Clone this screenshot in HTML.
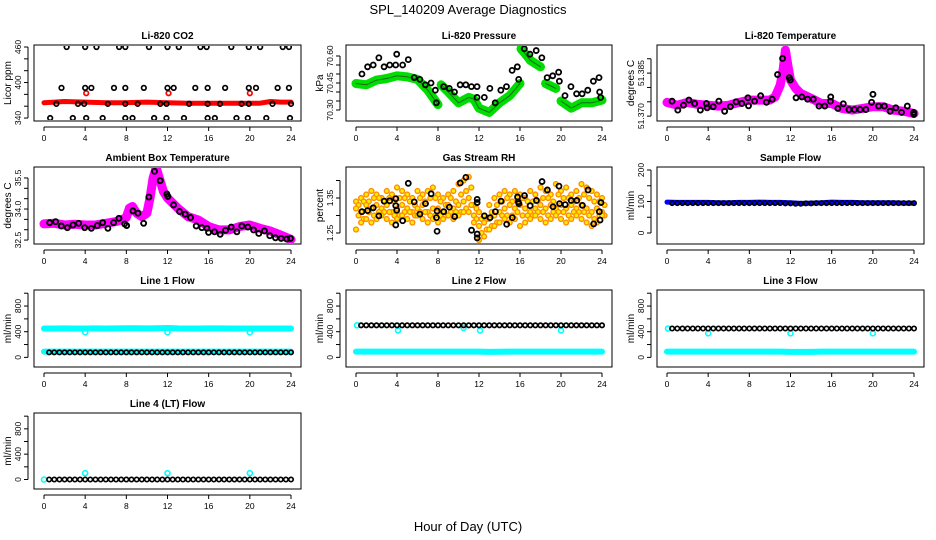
<!DOCTYPE html>
<html><head><meta charset="utf-8">
<style>
html,body{margin:0;padding:0;background:#fff;}
svg{display:block;font-family:"Liberation Sans",sans-serif;}
</style></head>
<body>
<svg id="c" width="936" height="540" viewBox="0 0 936 540" xmlns="http://www.w3.org/2000/svg">
<text x="468" y="14" text-anchor="middle" font-size="13">SPL_140209  Average Diagnostics</text>
<text x="468" y="531" text-anchor="middle" font-size="13">Hour of Day (UTC)</text>
</svg>
<script>
// ---- data ----
const xTicks = [0,4,8,12,16,20,24];
const co2RedHrs = [0,2,4,6,8,10,12,14,16,18,20,21,22,23,24];
const co2RedVals = [366,368,367,366,366,367,366,365,365,365,365,365,368,367,367];
const co2RedOutHrs = [4.1,12.1,20.0];
const co2RedOutVals = [382,382,382];
const co2BlackHrs = [2.2,4.0,5.1,7.3,7.9,10.2,12.0,13.1,15.2,15.8,18.2,19.9,21.0,23.2,23.8,
 1.7,4.0,4.6,6.8,7.9,9.7,12.0,12.6,14.7,15.9,17.6,19.9,20.6,22.7,23.8,
 1.2,3.3,3.9,6.2,7.9,9.1,11.3,11.9,14.1,15.9,17.1,19.2,19.9,22.2,24.0,
 0.6,2.8,4.1,5.7,7.9,8.6,10.7,11.9,13.6,15.9,16.6,18.7,19.8,21.6,23.9];
const co2BlackVals = [460,460,460,460,460,460,460,460,460,460,460,460,460,460,460,
 391,391,391,391,391,391,391,391,391,391,391,391,391,391,391,
 364,364,364,364,364,364,364,364,364,364,364,364,364,364,364,
 340,340,340,340,340,340,340,340,340,340,340,340,340,340,340];

const presGreenHrs = [0,1,2,3,4,5,6,7,8,8.2,8.3,9,10,11,11.5,12,13,14,15,16,16.05,16.1,16.5,17,18,18.2,18.5,19.5,19.8,20,21,22,23,24];
const presGreenVals = [70.447,70.44,70.466,70.475,70.49,70.484,70.47,70.41,70.33,null,70.44,70.40,70.34,70.37,70.36,70.31,70.287,70.34,70.38,70.447,null,70.64,70.613,70.576,70.54,null,70.447,70.42,null,70.35,70.31,70.34,70.34,70.355];
const presBlackHrs = [0.58,1.13,1.68,2.23,2.74,3.29,3.87,3.97,4.55,5.1,5.68,6.23,6.77,7.32,7.74,7.84,8.55,9.1,9.61,10.16,10.71,11.26,11.81,11.81,12.52,13.06,13.58,14.13,14.68,15.23,15.74,15.87,16.42,16.97,17.58,18.13,18.65,19.19,19.77,19.84,20.39,20.97,21.52,22.06,22.61,23.16,23.71,23.77,23.87];
const presBlackVals = [70.50,70.54,70.55,70.59,70.54,70.55,70.55,70.61,70.55,70.58,70.48,70.47,70.44,70.45,70.41,70.34,70.43,70.42,70.40,70.44,70.44,70.43,70.43,70.37,70.37,70.42,70.34,70.41,70.43,70.52,70.54,70.47,70.64,70.61,70.63,70.59,70.48,70.49,70.51,70.46,70.38,70.43,70.39,70.39,70.41,70.46,70.48,70.40,70.37];

const tempMagHrs = [0,1,2,3,4,5,6,7,8,9,10,10.5,11,11.3,11.5,11.8,12,12.5,13,14,15,16,17,18,19,20,21,22,23,24];
const tempMagVals = [51.3748,51.3738,51.3748,51.3741,51.3738,51.3735,51.3738,51.3748,51.3756,51.3756,51.3756,51.3767,51.3808,51.3866,51.3930,51.3866,51.3826,51.3797,51.3779,51.3762,51.3744,51.3744,51.3727,51.3721,51.3727,51.3733,51.3733,51.3721,51.3717,51.3709];
const tempBlackHrs = [0.49,1.05,1.60,2.13,2.69,3.24,3.83,3.90,4.49,5.04,5.60,6.16,6.71,7.27,7.86,7.92,8.51,9.10,9.66,10.22,10.74,11.23,11.89,11.98,12.54,13.10,13.66,14.21,14.77,15.33,15.88,15.91,16.60,17.13,17.68,18.21,18.76,19.32,19.88,20.01,20.56,21.12,21.68,22.23,22.79,23.35,23.97,23.98];
const tempBlackVals = [51.3752,51.3721,51.3738,51.3756,51.3744,51.3721,51.3744,51.3729,51.3733,51.3752,51.3717,51.3733,51.3750,51.3744,51.3764,51.3736,51.3752,51.3771,51.3748,51.3759,51.3845,51.3901,51.3834,51.3826,51.3764,51.3767,51.3759,51.3759,51.3735,51.3735,51.3752,51.3767,51.3727,51.3743,51.3723,51.3723,51.3723,51.3723,51.3748,51.3776,51.3735,51.3735,51.3717,51.3729,51.3713,51.3735,51.3713,51.3706];

const ambMagHrs = [0,1,2,3,4,5,6,7,7.5,8,8.3,8.6,9,9.5,10,10.3,10.6,10.9,11.2,11.6,12,13,14,15,16,17,18,19,20,21,22,23,24];
const ambMagVals = [33.28,33.31,33.23,33.26,33.23,33.23,33.31,33.39,33.47,33.59,34.04,34.12,33.80,33.63,33.80,34.53,35.50,35.99,35.50,34.85,34.53,34.04,33.63,33.47,33.15,32.99,32.99,33.15,33.23,33.07,32.94,32.74,32.53];
const ambBlackHrs = [0.55,1.13,1.68,2.27,2.82,3.37,3.95,4.6,5.18,5.7,6.21,6.76,7.28,7.83,8.03,8.64,9.13,9.68,10.19,10.74,11.29,11.94,12.04,12.59,13.17,13.72,14.24,14.79,15.34,15.83,15.99,16.57,17.12,17.64,18.19,18.74,19.22,19.81,20.36,20.87,21.42,21.94,22.49,23.04,23.59,23.95];
const ambBlackVals = [33.34,33.39,33.18,33.10,33.23,33.31,33.10,33.07,33.20,33.34,33.07,33.34,33.55,33.28,33.20,33.91,33.80,33.31,34.58,35.82,35.37,34.72,34.61,34.20,33.88,33.75,33.59,33.18,33.10,33.07,32.87,32.90,32.78,32.97,33.13,32.90,33.18,33.13,32.99,32.82,32.94,32.71,32.61,32.58,32.55,32.58];

const rhUpper = [1.34,1.35,1.36,1.37,1.36,1.35,1.37,1.36,1.38,1.37,1.36,1.35,1.37,1.36,1.37,1.38,1.36,1.35,1.36,1.37,1.39,1.40,1.41,1.33,1.31,1.30,1.33,1.35,1.36,1.37,1.36,1.37,1.36,1.35,1.37,1.36,1.38,1.37,1.36,1.39,1.37,1.38,1.36,1.37,1.39,1.38,1.37,1.36,1.35];
const rhQ3 = [1.33,1.34,1.34,1.35,1.35,1.34,1.35,1.34,1.35,1.35,1.34,1.33,1.35,1.34,1.35,1.35,1.34,1.33,1.35,1.34,1.36,1.37,1.38,1.32,1.29,1.29,1.31,1.33,1.34,1.35,1.34,1.35,1.35,1.34,1.34,1.34,1.35,1.35,1.34,1.36,1.35,1.35,1.34,1.35,1.36,1.35,1.34,1.34,1.33];
const rhMid = [1.32,1.31,1.33,1.32,1.33,1.32,1.33,1.31,1.32,1.33,1.32,1.31,1.32,1.33,1.31,1.32,1.32,1.31,1.33,1.32,1.33,1.34,1.35,1.30,1.27,1.28,1.29,1.30,1.31,1.32,1.33,1.32,1.33,1.32,1.31,1.32,1.33,1.32,1.33,1.32,1.33,1.32,1.33,1.32,1.33,1.32,1.31,1.32,1.31];
const rhQ1 = [1.30,1.29,1.31,1.30,1.31,1.31,1.31,1.30,1.30,1.31,1.31,1.30,1.31,1.31,1.30,1.30,1.30,1.30,1.31,1.31,1.31,1.32,1.33,1.29,1.25,1.26,1.27,1.28,1.30,1.30,1.30,1.31,1.30,1.30,1.30,1.31,1.31,1.30,1.31,1.31,1.31,1.30,1.31,1.31,1.31,1.30,1.29,1.30,1.30];
const rhLower = [1.26,1.28,1.29,1.28,1.29,1.30,1.29,1.28,1.29,1.30,1.29,1.28,1.30,1.29,1.28,1.29,1.28,1.29,1.30,1.29,1.30,1.31,1.31,1.28,1.23,1.24,1.26,1.27,1.28,1.29,1.28,1.29,1.27,1.28,1.29,1.30,1.29,1.28,1.29,1.30,1.29,1.28,1.29,1.30,1.29,1.28,1.27,1.28,1.30];
const rhBlackHrs = [0.58,1.13,1.68,2.23,2.75,3.29,3.88,3.88,3.97,3.88,4.55,5.10,5.68,6.23,6.78,7.33,7.91,7.85,7.91,8.56,9.11,9.63,10.17,10.72,11.27,11.82,11.82,11.82,11.82,12.53,13.08,13.6,14.15,14.7,15.25,15.76,15.83,15.89,16.44,16.99,17.6,18.15,18.67,19.22,19.8,19.86,20.41,20.99,21.54,22.09,22.64,23.19,23.74,23.81,23.9];
const rhBlackVals = [1.311,1.314,1.322,1.299,1.341,1.342,1.348,1.328,1.315,1.273,1.285,1.392,1.339,1.304,1.334,1.362,1.313,1.294,1.255,1.311,1.324,1.297,1.393,1.409,1.258,1.346,1.337,1.247,1.236,1.299,1.294,1.311,1.341,1.275,1.294,1.353,1.339,1.334,1.357,1.328,1.343,1.397,1.373,1.325,1.384,1.334,1.331,1.343,1.343,1.329,1.373,1.276,1.311,1.287,1.337];

const hourly = [0,1,2,3,4,5,6,7,8,9,10,11,12,13,14,15,16,17,18,19,20,21,22,23,24];
const sampleBlueVals = [98,97,97,97,97,96,96,97,97,98,97,97,96,94,95,96,98,97,97,96,96,96,96,95,95];
const sampleBlackVals = [95,95,95,95,95,95,95,95,95,95,95,95,94,93,94,95,95,95,95,95,95,95,95,95,95];

const l1CyanHigh = [450,450,452,450,450,452,450,452,455,455,452,455,458,452,450,450,452,452,450,450,450,450,450,450,450];
const l1CyanLow = [90,90,90,90,90,90,90,90,90,90,90,90,90,90,90,90,90,90,90,90,90,90,90,90,90];
const l1Black = [78,78,78,78,78,78,78,78,78,78,78,78,78,78,78,78,78,78,78,78,78,78,78,78,78];
const l1OutHrs = [4.0,12.0,20.0];
const l1OutVals = [390,390,390];

const l2CyanLow = [90,90,90,90,90,90,90,90,90,90,90,90,90,85,88,90,90,90,90,90,90,90,90,90,90];
const l2Black = [500,500,500,500,500,500,500,500,500,500,500,500,500,500,500,500,500,500,500,500,500,500,500,500,500];
const l2OutHrs = [0.1,4.1,10.5,12.1,20.0];
const l2OutVals = [500,420,460,420,420];

const l3CyanLow = [90,90,90,90,90,90,90,90,90,90,90,90,85,85,85,90,90,90,90,90,90,90,90,90,90];
const l3Black = [450,450,450,450,450,450,450,450,450,450,450,450,450,450,450,450,450,450,450,450,450,450,450,450,450];
const l3OutHrs = [0.1,4.0,12.0,20.0];
const l3OutVals = [450,375,375,375];

const l4Black = [0,0,0,0,0,0,0,0,0,0,0,0,0,0,0,0,0,0,0,0,0,0,0,0,0];
const l4OutHrs = [0,4.0,12.0,20.0];
const l4OutVals = [0,100,100,100];

// ---- layout ----
const svg = document.getElementById('c');
const NS = 'http://www.w3.org/2000/svg';
const cols = [[34,301],[346,612],[657,924]];
const rows = [[45,121],[167,244],[290,367],[413,489]];

function el(tag, attrs, parent){
  const e = document.createElementNS(NS, tag);
  for (const k in attrs) e.setAttribute(k, attrs[k]);
  (parent||svg).appendChild(e);
  return e;
}

function panel(key, c, r, dom, yt, ylbl, title, ylab){
  const [l, rt] = cols[c], [t, b] = rows[r];
  const g = el('g', {});
  
  
  const sx = h => (l+10) + h/24*((rt-10)-(l+10));
  const sy = v => b - (v-dom[0])/(dom[1]-dom[0])*(b-t);
  const box = el('rect', {x:l, y:t, width:rt-l, height:b-t, fill:'none', stroke:'#000', 'stroke-width':1}, g);
  
  
  const tt = el('text', {x:(l+rt)/2, y:t-6, 'text-anchor':'middle', 'font-size':10, 'font-weight':'bold'}, g);
  tt.textContent = title;
  
  
  const yl = el('text', {x:0, y:0, 'text-anchor':'middle', 'font-size':10, transform:`translate(${l-23},${(t+b)/2}) rotate(-90)`}, g);
  yl.textContent = ylab;
  
  
  const xa = el('g', {}, g);
  
  
  el('line', {x1:sx(0), x2:sx(24), y1:b+6, y2:b+6, stroke:'#000'}, xa);
  xTicks.forEach(h => {
    el('line', {x1:sx(h), x2:sx(h), y1:b+6, y2:b+10, stroke:'#000'}, xa);
    const tx = el('text', {x:sx(h), y:b+20, 'text-anchor':'middle', 'font-size':8.5}, xa);
    tx.textContent = h;
    
    
  });
  const ya = el('g', {}, g);
  
  
  el('line', {x1:l-6, x2:l-6, y1:sy(yt[0]), y2:sy(yt[yt.length-1]), stroke:'#000'}, ya);
  yt.forEach((v,i) => {
    el('line', {x1:l-10, x2:l-6, y1:sy(v), y2:sy(v), stroke:'#000'}, ya);
    if (ylbl[i]) {
      const ty = el('text', {x:0, y:0, 'text-anchor':'middle', 'font-size':8.5, transform:`translate(${l-13},${sy(v)}) rotate(-90)`}, ya);
      ty.textContent = ylbl[i];
      
      
    }
  });
  const clipId = key + '-clip';
  const cp = el('clipPath', {id:clipId}, g);
  el('rect', {x:l+1, y:t+1, width:rt-l-2, height:b-t-2}, cp);
  const d = el('g', {'clip-path':`url(#${clipId})`}, g);
  
  
  return {sx, sy, g:d};
}

function band(p, hrs, vals, color, w, name){
  let pts = [];
  const flush = () => {
    if (pts.length) {
      const pl = el('polyline', {points:pts.join(' '), fill:'none', stroke:color, 'stroke-width':w, 'stroke-linecap':'round', 'stroke-linejoin':'round'}, p.g);
      
      
    }
    pts = [];
  };
  hrs.forEach((h,i) => {
    if (vals[i] === null) { flush(); return; }
    pts.push(p.sx(h).toFixed(1) + ',' + p.sy(vals[i]).toFixed(1));
  });
  flush();
}

function pts(p, hrs, vals, stroke, fill, r, sw, name){
  hrs.forEach((h,i) => {
    const ci = el('circle', {cx:p.sx(h), cy:p.sy(vals[i]), r:r, fill:fill, stroke:stroke, 'stroke-width':sw}, p.g);
    
    
  });
}

// Panel 1 CO2
let p = panel('co2', 0, 0, [335,463.4], [340,360,380,400,420,440,460], ['340','','','400','','','460'], 'Li-820 CO2', 'Licor ppm');
band(p, co2RedHrs, co2RedVals, '#ff0000', 5, 'co2-red-series');
pts(p, co2RedOutHrs, co2RedOutVals, '#ff0000', 'none', 2.3, 1.7, 'co2-red-point');
pts(p, co2BlackHrs, co2BlackVals, '#000', 'none', 2.3, 1.7, 'co2-black-point');

// Panel 2 Pressure
p = panel('pressure', 1, 0, [70.239,70.661], [70.30,70.35,70.40,70.45,70.50,70.55,70.60], ['70.30','','','70.45','','','70.60'], 'Li-820 Pressure', 'kPa');
band(p, presGreenHrs, presGreenVals, '#00dd00', 9, 'pressure-green-series');
band(p, presGreenHrs, presGreenVals, '#1a6a1a', 1, 'pressure-green-core');
pts(p, presBlackHrs, presBlackVals, '#000', 'none', 2.5, 1.8, 'pressure-black-point');

// Panel 3 Li-820 Temperature
p = panel('li820-temp', 2, 0, [51.3683,51.3948], [51.370,51.375,51.380,51.385,51.390], ['51.370','','','51.385',''], 'Li-820 Temperature', 'degrees C');
band(p, tempMagHrs, tempMagVals, '#ff00ff', 9, 'li820-temp-magenta-series');
pts(p, tempBlackHrs, tempBlackVals, '#000', 'none', 2.5, 1.9, 'li820-temp-black-point');

// Panel 4 Ambient
p = panel('ambient-temp', 0, 1, [32.31,36.03], [32.5,33.0,33.5,34.0,34.5,35.0,35.5], ['32.5','','','34.0','','','35.5'], 'Ambient Box Temperature', 'degrees C');
band(p, ambMagHrs, ambMagVals, '#ff00ff', 9, 'ambient-magenta-series');
pts(p, ambBlackHrs, ambBlackVals, '#000', 'none', 2.5, 1.9, 'ambient-black-point');

// Panel 5 RH
p = panel('rh', 1, 1, [1.2186,1.4386], [1.25,1.30,1.35,1.40], ['1.25','','1.35',''], 'Gas Stream RH', 'percent');
const rhHrs = rhUpper.map((_,i) => i*0.5);
const rhHrsOff = rhUpper.map((_,i) => i*0.5 + 0.25);
[[rhHrs,rhUpper],[rhHrsOff,rhQ3],[rhHrs,rhMid],[rhHrsOff,rhQ1],[rhHrs,rhLower]].forEach(s => pts(p, s[0], s[1], '#ff8c00', '#ffee00', 2.4, 1.4, 'rh-orange-point'));
pts(p, rhBlackHrs, rhBlackVals, '#000', 'none', 2.5, 1.8, 'rh-black-point');

// Panel 6 Sample flow
p = panel('sample-flow', 2, 1, [-34.9,209.5], [0,50,100,150,200], ['0','','100','','200'], 'Sample Flow', 'ml/min');
band(p, hourly, sampleBlueVals, '#0000ff', 5, 'sample-blue-series');
pts(p, hourly.slice(1), sampleBlackVals.slice(1), '#000', 'none', 2.2, 1.6, 'sample-black-point');
pts(p, hourly.slice(1).map(h=>h-0.5), sampleBlackVals.slice(1), '#000', 'none', 2.2, 1.6, 'sample-black-point');

const fdom = [-150,1050], ft = [0,200,400,600,800,1000], fl = ['0','','400','','800',''];
const halfHrs = hourly.slice(1).map(h=>h-0.5);

// Line 1
p = panel('line1-flow', 0, 2, fdom, ft, fl, 'Line 1 Flow', 'ml/min');
band(p, hourly, l1CyanHigh, '#00ffff', 6, 'line1-cyan-high');
band(p, hourly, l1CyanLow, '#00ffff', 6, 'line1-cyan-low');
pts(p, l1OutHrs, l1OutVals, '#00ffff', 'none', 2.5, 1.6, 'line1-cyan-outlier');
pts(p, hourly.slice(1), l1Black.slice(1), '#000', 'none', 2.2, 1.7, 'line1-black-point');
pts(p, halfHrs, l1Black.slice(1), '#000', 'none', 2.2, 1.7, 'line1-black-point');

// Line 2
p = panel('line2-flow', 1, 2, fdom, ft, fl, 'Line 2 Flow', 'ml/min');
band(p, hourly, l2CyanLow, '#00ffff', 6, 'line2-cyan-low');
pts(p, l2OutHrs, l2OutVals, '#00ffff', 'none', 2.5, 1.6, 'line2-cyan-outlier');
pts(p, hourly.slice(1), l2Black.slice(1), '#000', 'none', 2.2, 1.7, 'line2-black-point');
pts(p, halfHrs, l2Black.slice(1), '#000', 'none', 2.2, 1.7, 'line2-black-point');

// Line 3
p = panel('line3-flow', 2, 2, fdom, ft, fl, 'Line 3 Flow', 'ml/min');
band(p, hourly, l3CyanLow, '#00ffff', 6, 'line3-cyan-low');
pts(p, l3OutHrs, l3OutVals, '#00ffff', 'none', 2.5, 1.6, 'line3-cyan-outlier');
pts(p, hourly.slice(1), l3Black.slice(1), '#000', 'none', 2.2, 1.7, 'line3-black-point');
pts(p, halfHrs, l3Black.slice(1), '#000', 'none', 2.2, 1.7, 'line3-black-point');

// Line 4
p = panel('line4-flow', 0, 3, fdom, ft, fl, 'Line 4 (LT) Flow', 'ml/min');
pts(p, l4OutHrs, l4OutVals, '#00ffff', 'none', 2.5, 1.6, 'line4-cyan-outlier');
pts(p, hourly.slice(1), l4Black.slice(1), '#000', 'none', 2.2, 1.7, 'line4-black-point');
pts(p, halfHrs, l4Black.slice(1), '#000', 'none', 2.2, 1.7, 'line4-black-point');
</script>
</body></html>
